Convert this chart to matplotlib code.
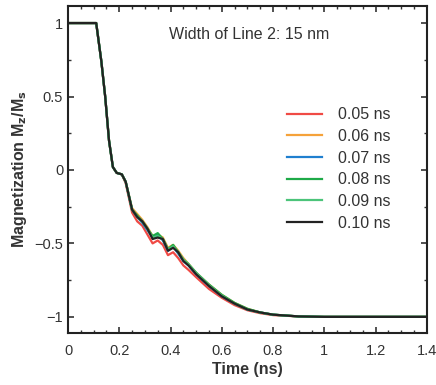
import numpy as np
import matplotlib.pyplot as plt
from matplotlib.ticker import MultipleLocator, FuncFormatter

plt.rcParams['font.family'] = ['Liberation Sans', 'DejaVu Sans']

# time samples (ns)
t = [0, 0.10, 0.11, 0.13, 0.145, 0.16, 0.175, 0.19, 0.21, 0.225, 0.25, 0.27, 0.29,
     0.31, 0.33, 0.35, 0.37, 0.39, 0.41, 0.43, 0.45, 0.47, 0.50, 0.55, 0.60, 0.65,
     0.70, 0.75, 0.80, 0.90, 1.00, 1.40]

# Mz/Ms for each pulse length
m_005 = [1, 1, 1, 0.74, 0.50, 0.20, 0.02, -0.02, -0.03, -0.09, -0.29, -0.35, -0.38,
         -0.44, -0.50, -0.48, -0.51, -0.58, -0.56, -0.60, -0.65, -0.68, -0.73, -0.81,
         -0.87, -0.92, -0.955, -0.975, -0.988, -0.997, -1, -1]
m_006 = [1, 1, 1, 0.74, 0.50, 0.20, 0.02, -0.02, -0.03, -0.08, -0.26, -0.30, -0.34,
         -0.39, -0.45, -0.44, -0.46, -0.53, -0.51, -0.55, -0.60, -0.64, -0.70, -0.78,
         -0.85, -0.905, -0.945, -0.97, -0.985, -0.997, -1, -1]
m_007 = [1, 1, 1, 0.74, 0.50, 0.20, 0.02, -0.02, -0.03, -0.08, -0.27, -0.32, -0.36,
         -0.41, -0.46, -0.44, -0.48, -0.55, -0.52, -0.57, -0.62, -0.65, -0.71, -0.79,
         -0.86, -0.91, -0.95, -0.97, -0.985, -0.997, -1, -1]
m_008 = [1, 1, 1, 0.74, 0.50, 0.20, 0.02, -0.02, -0.03, -0.08, -0.27, -0.31, -0.35,
         -0.40, -0.45, -0.43, -0.47, -0.54, -0.51, -0.56, -0.61, -0.64, -0.70, -0.78,
         -0.85, -0.905, -0.945, -0.97, -0.985, -0.997, -1, -1]
m_009 = [1, 1, 1, 0.74, 0.50, 0.20, 0.02, -0.02, -0.03, -0.08, -0.27, -0.32, -0.35,
         -0.40, -0.46, -0.45, -0.47, -0.54, -0.52, -0.56, -0.61, -0.645, -0.70, -0.785,
         -0.855, -0.91, -0.95, -0.97, -0.985, -0.997, -1, -1]
m_010 = [1, 1, 1, 0.74, 0.50, 0.20, 0.02, -0.02, -0.03, -0.08, -0.27, -0.32, -0.35,
         -0.40, -0.47, -0.46, -0.47, -0.55, -0.53, -0.56, -0.62, -0.65, -0.71, -0.79,
         -0.86, -0.91, -0.95, -0.97, -0.985, -0.997, -1, -1]

labels = ['0.05 ns', '0.06 ns', '0.07 ns', '0.08 ns', '0.09 ns', '0.10 ns']
colors = ['#f04a45', '#f5a23a', '#1f7fcf', '#1eaa48', '#4cc47a', '#222222']
series = [m_005, m_006, m_007, m_008, m_009, m_010]

fig = plt.figure(figsize=(4.36, 3.85), dpi=100)
ax = fig.add_axes([0.156, 0.135, 0.823, 0.849])

for m, c, lab in zip(series, colors, labels):
    ax.plot(t, m, color=c, lw=1.6, label=lab)

ax.set_xlim(0, 1.4)
ax.set_ylim(-1.11, 1.115)

fmt = FuncFormatter(lambda v, p: ('%g' % round(v, 2)).replace('-', '\u2212'))
ax.xaxis.set_major_locator(MultipleLocator(0.2))
ax.xaxis.set_minor_locator(MultipleLocator(0.05))
ax.yaxis.set_major_locator(MultipleLocator(0.5))
ax.yaxis.set_minor_locator(MultipleLocator(0.25))
ax.xaxis.set_major_formatter(fmt)
ax.yaxis.set_major_formatter(fmt)
ax.tick_params(which='both', direction='in', top=True, right=True, labelsize=10.5,
               colors='#333333', labelcolor='#333333')
ax.tick_params(which='major', length=4, width=1.2)
ax.tick_params(which='minor', length=2, width=1)
ax.tick_params(axis='x', pad=8)
for s in ax.spines.values():
    s.set_linewidth(1.5)
    s.set_color('#222222')

ax.set_xlabel('Time (ns)', fontsize=11.5, fontweight='bold', color='#333333', labelpad=3)
ax.set_ylabel('Magnetization M$_\\mathbf{z}$/M$_\\mathbf{s}$', fontsize=11.5,
              fontweight='bold', color='#333333', labelpad=4)

ax.text(0.505, 0.912, 'Width of Line 2: 15 nm', transform=ax.transAxes, ha='center',
        va='center', fontsize=11.5, color='#333333')

leg = ax.legend(loc='upper left', bbox_to_anchor=(0.571, 0.735), frameon=False,
                fontsize=11.5, handlelength=2.2, handletextpad=0.95, labelspacing=0.42,
                labelcolor='#333333')

fig.savefig('out.png', dpi=100)
